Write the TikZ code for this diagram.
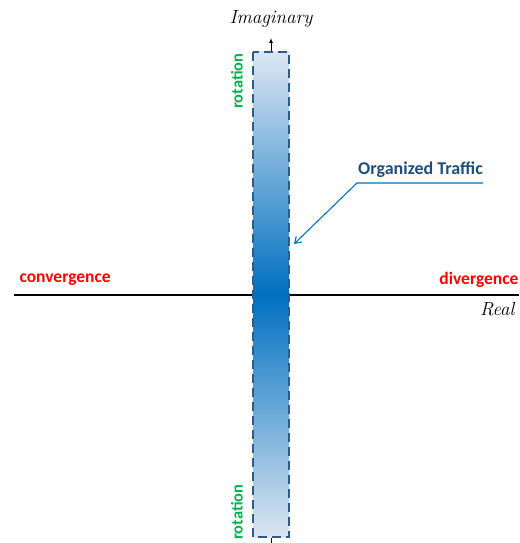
\documentclass[tikz,border=0pt]{standalone}
\usepackage{fontspec}
\setsansfont{Carlito}
\usetikzlibrary{arrows.meta,positioning}
\definecolor{bandblue}{HTML}{0070C0}
\definecolor{bandlight}{HTML}{DCE6F2}
\definecolor{edgeblue}{HTML}{2F5B8A}
\definecolor{notegreen}{HTML}{00B050}
\definecolor{titleblue}{HTML}{1F4E79}

\begin{document}
\begin{tikzpicture}[x=1pt,y=-1pt]
  \useasboundingbox (0,0) rectangle (519,543);

  % Axes
  \coordinate (re-left) at (14,295);
  \coordinate (re-right) at (519,295);
  \coordinate (im-bottom) at (271,543);
  \coordinate (im-top) at (271,38);
  \draw[line width=1.2pt] (re-left) -- (re-right);
  \draw[line width=1pt, -{Latex[length=5pt,width=4pt]}] (im-bottom) -- (im-top);

  % Band on the imaginary axis
  \shade[top color=bandlight, bottom color=bandlight, middle color=bandblue] (253,52) rectangle (289,537);
  \draw[edgeblue, line width=1.8pt, dash pattern=on 9pt off 5pt] (253,52) rectangle (289,537);
  \node[inner sep=0pt, minimum width=36pt, minimum height=485pt] (band) at (271,294.5) {};

  % Axis labels
  \node[font=\fontsize{19}{21}\selectfont\itshape] (imag) at (271,19) {Imaginary};
  \node[font=\fontsize{19}{21}\selectfont\itshape, anchor=east] (real) at (518,309) {Real};
  \node[font=\sffamily\bfseries\fontsize{17.5}{20}\selectfont, text=red, anchor=west] (conv) at (16,280) {convergence};
  \node[font=\sffamily\bfseries\fontsize{17.5}{20}\selectfont, text=red, anchor=east] (div) at (522,280) {divergence};
  \node[font=\sffamily\bfseries\fontsize{16.4}{18}\selectfont, text=notegreen, rotate=90, anchor=east] (rot-top) at (237,50) {rotation};
  \node[font=\sffamily\bfseries\fontsize{16.4}{18}\selectfont, text=notegreen, rotate=90, anchor=east] (rot-bottom) at (237,481) {rotation};

  % Callout
  \node[font=\sffamily\bfseries\fontsize{18}{20}\selectfont, text=titleblue] (traffic) at (420.5,170) {Organized Traffic};
  \coordinate (bend) at (357,183);
  \coordinate (bend-end) at (483,183);
  \draw[bandblue, line width=1.1pt, -{Straight Barb[length=6pt,width=8pt]}] (bend-end) -- (bend) -- (294,244);
\end{tikzpicture}
\end{document}
